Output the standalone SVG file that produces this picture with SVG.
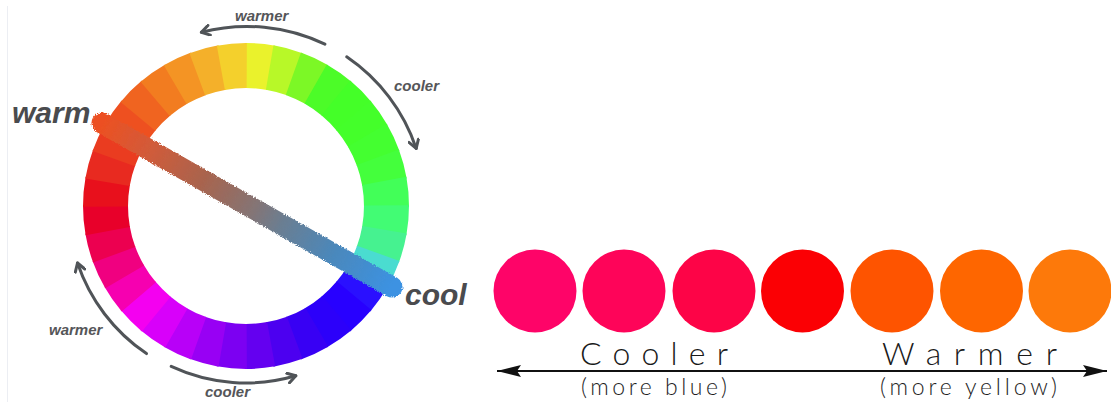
<svg xmlns="http://www.w3.org/2000/svg" xmlns:xlink="http://www.w3.org/1999/xlink" width="1111" height="402" viewBox="0 0 1111 402">
<style>
.lbl{font-family:"Liberation Sans",Arial,sans-serif;font-weight:bold;font-style:italic;fill:#555659}
.big{font-size:30px;fill:#4a4b4e}
.sm{font-size:15px}
.arc{fill:none;stroke:#505458;stroke-width:3;stroke-linecap:round}
.thin{font-family:Lato,"Open Sans",sans-serif;font-weight:300;fill:#1a1a1a}
.sub{font-family:Lato,"Open Sans",sans-serif;font-weight:300;fill:#1e1e1e;font-size:23px}
</style>
<defs>
<path id="seg" d="M230.944,43.698 A163,163 0 0 1 261.056,43.698 L256.900,88.505 A118,118 0 0 0 235.100,88.505 Z"/>
<marker id="chev" viewBox="0 0 12 12" refX="10" refY="6" markerWidth="12" markerHeight="12" markerUnits="userSpaceOnUse" orient="auto">
<path d="M2,1 L10,6 L2,11" fill="none" stroke="#505458" stroke-width="3" stroke-linecap="round" stroke-linejoin="round"/>
</marker>
<marker id="tri" viewBox="0 0 24 12" refX="24" refY="6" markerWidth="24" markerHeight="12" markerUnits="userSpaceOnUse" orient="auto-start-reverse">
<path d="M0,0 L24,6 L0,12 L4,6 Z" fill="#111"/>
</marker>
<linearGradient id="stripe" gradientUnits="userSpaceOnUse" x1="102" y1="123" x2="392" y2="287">
<stop offset="0" stop-color="#ec5022"/>
<stop offset="0.15" stop-color="#d45a38"/>
<stop offset="0.35" stop-color="#a8644e"/>
<stop offset="0.52" stop-color="#857474"/>
<stop offset="0.62" stop-color="#6a7e92"/>
<stop offset="0.8" stop-color="#4a88bc"/>
<stop offset="1" stop-color="#3c92e2"/>
</linearGradient>
<filter id="rough" x="-10%" y="-20%" width="120%" height="140%">
<feTurbulence type="fractalNoise" baseFrequency="0.9" numOctaves="1" seed="3" result="n"/>
<feDisplacementMap in="SourceGraphic" in2="n" scale="4" xChannelSelector="R" yChannelSelector="G"/>
</filter>
</defs>
<rect width="1111" height="402" fill="#ffffff"/>
<line x1="7.5" y1="6" x2="7.5" y2="402" stroke="#eceef3" stroke-width="1"/>

<g id="wheel">
<use href="#seg" transform="rotate(5 246 206)" fill="#eaf22c"/>
<use href="#seg" transform="rotate(15 246 206)" fill="#b8f828"/>
<use href="#seg" transform="rotate(25 246 206)" fill="#7cf826"/>
<use href="#seg" transform="rotate(35 246 206)" fill="#4cfc28"/>
<use href="#seg" transform="rotate(45 246 206)" fill="#44ff28"/>
<use href="#seg" transform="rotate(55 246 206)" fill="#44ff2a"/>
<use href="#seg" transform="rotate(65 246 206)" fill="#44ff30"/>
<use href="#seg" transform="rotate(75 246 206)" fill="#44ff3c"/>
<use href="#seg" transform="rotate(85 246 206)" fill="#42ff58"/>
<use href="#seg" transform="rotate(95 246 206)" fill="#42fc74"/>
<use href="#seg" transform="rotate(105 246 206)" fill="#46f290"/>
<use href="#seg" transform="rotate(115 246 206)" fill="#4adcd0"/>
<use href="#seg" transform="rotate(125 246 206)" fill="#2a10ff"/>
<use href="#seg" transform="rotate(135 246 206)" fill="#2800ff"/>
<use href="#seg" transform="rotate(145 246 206)" fill="#2c00fa"/>
<use href="#seg" transform="rotate(155 246 206)" fill="#3800f4"/>
<use href="#seg" transform="rotate(165 246 206)" fill="#4c00f0"/>
<use href="#seg" transform="rotate(175 246 206)" fill="#6400f0"/>
<use href="#seg" transform="rotate(185 246 206)" fill="#7c00f2"/>
<use href="#seg" transform="rotate(195 246 206)" fill="#9800f4"/>
<use href="#seg" transform="rotate(205 246 206)" fill="#b800f8"/>
<use href="#seg" transform="rotate(215 246 206)" fill="#d800fa"/>
<use href="#seg" transform="rotate(225 246 206)" fill="#f400f0"/>
<use href="#seg" transform="rotate(235 246 206)" fill="#f600b0"/>
<use href="#seg" transform="rotate(245 246 206)" fill="#f00080"/>
<use href="#seg" transform="rotate(255 246 206)" fill="#ec0050"/>
<use href="#seg" transform="rotate(265 246 206)" fill="#e8002a"/>
<use href="#seg" transform="rotate(275 246 206)" fill="#e8101c"/>
<use href="#seg" transform="rotate(285 246 206)" fill="#e82a20"/>
<use href="#seg" transform="rotate(295 246 206)" fill="#ea3c20"/>
<use href="#seg" transform="rotate(305 246 206)" fill="#ee5020"/>
<use href="#seg" transform="rotate(315 246 206)" fill="#f06420"/>
<use href="#seg" transform="rotate(325 246 206)" fill="#f27c20"/>
<use href="#seg" transform="rotate(335 246 206)" fill="#f49424"/>
<use href="#seg" transform="rotate(345 246 206)" fill="#f4b02a"/>
<use href="#seg" transform="rotate(355 246 206)" fill="#f4d02c"/>
</g>

<g id="stripe-axis">
<line x1="102" y1="123" x2="392" y2="287" stroke="url(#stripe)" stroke-width="21" stroke-linecap="round" filter="url(#rough)"/>
</g>

<g id="label-warm"><text class="lbl big" x="12" y="123">warm</text></g>
<g id="label-cool"><text class="lbl big" x="405" y="305">cool</text></g>
<g id="label-top-warmer"><text class="lbl sm" x="235" y="21">warmer</text></g>
<g id="label-top-cooler"><text class="lbl sm" x="394" y="91">cooler</text></g>
<g id="label-bottom-warmer"><text class="lbl sm" x="49" y="335">warmer</text></g>
<g id="label-bottom-cooler"><text class="lbl sm" x="205" y="397">cooler</text></g>

<g id="connectors">
<path class="arc" d="M324.9,44.2 A180,180 0 0 0 201.4,32.3" marker-end="url(#chev)"/>
<path class="arc" d="M346.7,56.8 A180,180 0 0 1 416.2,148.4" marker-end="url(#chev)"/>
<path class="arc" d="M146.5,353.6 A178,178 0 0 1 77.5,263.0" marker-end="url(#chev)"/>
<path class="arc" d="M171.2,366.4 A177,177 0 0 0 295.8,375.8" marker-end="url(#chev)"/>
<line x1="497" y1="371" x2="1107" y2="371" stroke="#111" stroke-width="2" marker-start="url(#tri)" marker-end="url(#tri)"/>
</g>

<g id="circle-1"><circle cx="535" cy="291" r="41.5" fill="#fe0468"/></g>
<g id="circle-2"><circle cx="624" cy="291" r="41.5" fill="#fe0459"/></g>
<g id="circle-3"><circle cx="714" cy="291" r="41.5" fill="#fd0447"/></g>
<g id="circle-4"><circle cx="802.5" cy="291" r="41.5" fill="#fb0004"/></g>
<g id="circle-5"><circle cx="892" cy="291" r="41.5" fill="#fe5400"/></g>
<g id="circle-6"><circle cx="981.5" cy="291" r="41.5" fill="#fe6600"/></g>
<g id="circle-7"><circle cx="1070" cy="291" r="41.5" fill="#fd790a"/></g>

<g id="label-cooler"><text class="thin" x="580" y="365" font-size="32" textLength="148" lengthAdjust="spacing">Cooler</text>
<text class="sub" x="581" y="395" textLength="146" lengthAdjust="spacing">(more blue)</text></g>
<g id="label-warmer"><text class="thin" x="882" y="365" font-size="32" textLength="175" lengthAdjust="spacing">Warmer</text>
<text class="sub" x="880" y="395" textLength="177" lengthAdjust="spacing">(more yellow)</text></g>
</svg>
